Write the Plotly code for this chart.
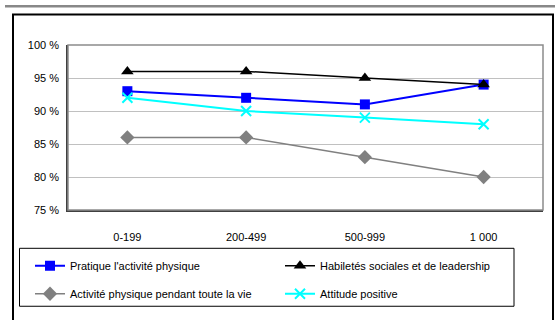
import plotly.graph_objects as go

# Effectif de l'école (catégories) et pourcentages par résultat
categories = ["0-199", "200-499", "500-999", "1 000"]
pratique = [93, 92, 91, 94]
habiletes = [96, 96, 95, 94]
activite_vie = [86, 86, 83, 80]
attitude = [92, 90, 89, 88]

y_ticks = [75, 80, 85, 90, 95, 100]
y_labels = ["75 %", "80 %", "85 %", "90 %", "95 %", "100 %"]

W, H = 555, 320
L, R, T, B = 68, 12, 45, 107
PW, PH = W - L - R, H - T - B


def px_x(x):
    return (x - L) / PW


def px_y(y):
    return (H - B - y) / PH


FONT = "Liberation Sans, Arial, sans-serif"

fig = go.Figure()

fig.add_trace(go.Scatter(
    x=categories, y=pratique, name="Pratique l'activité physique",
    mode="lines+markers", line=dict(color="#0000FF", width=2),
    marker=dict(symbol="square", size=10, color="#0000FF"),
    legend="legend", legendgroup="a"))
fig.add_trace(go.Scatter(
    x=categories, y=habiletes, name="Habiletés sociales et de leadership",
    mode="lines+markers", line=dict(color="#000000", width=1.5),
    marker=dict(symbol="triangle-up", size=11, color="#000000"),
    legend="legend2", legendgroup="b"))
fig.add_trace(go.Scatter(
    x=categories, y=activite_vie, name="Activité physique pendant toute la vie",
    mode="lines+markers", line=dict(color="#808080", width=1.5),
    marker=dict(symbol="diamond", size=11, color="#808080"),
    legend="legend", legendgroup="c"))
fig.add_trace(go.Scatter(
    x=categories, y=attitude, name="Attitude positive",
    mode="lines+markers", line=dict(color="#00FFFF", width=2),
    marker=dict(symbol="x-thin", size=10, line=dict(color="#00FFFF", width=2)),
    legend="legend2", legendgroup="d"))

shapes = [
    # filet gris en haut de page
    dict(type="line", xref="paper", yref="paper",
         x0=px_x(5), x1=px_x(556), y0=px_y(5.5), y1=px_y(5.5),
         line=dict(color="#888888", width=2.5)),
    # cadre du graphique
    dict(type="rect", xref="paper", yref="paper",
         x0=px_x(13), x1=px_x(553), y0=px_y(14), y1=px_y(330),
         line=dict(color="#000000", width=2)),
    # cadre de la légende
    dict(type="rect", xref="paper", yref="paper",
         x0=px_x(19.5), x1=px_x(514), y0=px_y(252), y1=px_y(311),
         line=dict(color="#000000", width=1)),
    # cadre de la zone de traçage
    dict(type="rect", xref="paper", yref="paper",
         x0=0, x1=1, y0=0, y1=1,
         line=dict(color="#8c8c8c", width=1.5)),
]

legend_common = dict(
    font=dict(family=FONT, size=11, color="#000000"),
    bgcolor="rgba(0,0,0,0)", borderwidth=0,
    xanchor="left", yanchor="top", orientation="v",
    traceorder="grouped", tracegroupgap=9,
    itemwidth=30,
)

fig.update_layout(
    width=W, height=H,
    margin=dict(l=L, r=R, t=T, b=B),
    paper_bgcolor="white", plot_bgcolor="white",
    font=dict(family=FONT, size=11, color="#000000"),
    shapes=shapes,
    showlegend=True,
    legend=dict(x=px_x(30), y=px_y(255), **legend_common),
    legend2=dict(x=px_x(280), y=px_y(255), **legend_common),
    xaxis=dict(
        type="category", range=[-0.5, 3.5],
        showgrid=False, zeroline=False,
        showline=True, linecolor="#404040", linewidth=1.5,
        ticks="", ticklabelstandoff=16,
        tickfont=dict(family=FONT, size=11, color="#000000"),
    ),
    yaxis=dict(
        range=[75, 100], tickmode="array", tickvals=y_ticks, ticktext=y_labels,
        showgrid=True, gridcolor="#c0c0c0", gridwidth=1,
        zeroline=False,
        showline=True, linecolor="#404040", linewidth=1.5,
        ticks="", ticklabelstandoff=5,
        tickfont=dict(family=FONT, size=11, color="#000000"),
    ),
)

fig.write_html("out.html")
